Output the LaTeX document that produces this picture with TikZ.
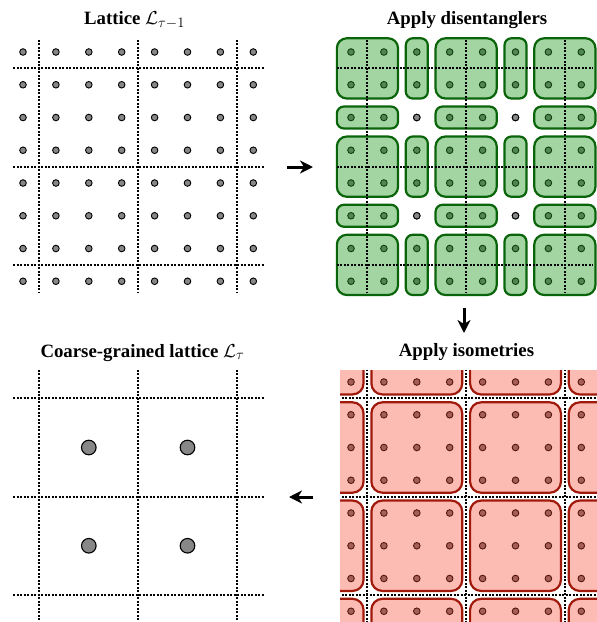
\RequirePackage{fix-cm}
\documentclass[tikz,border=0pt]{standalone}
\usepackage{fontspec}
\setmainfont{Liberation Serif}
\usetikzlibrary{arrows.meta}
\DeclareMathSizes{18.8}{18.8}{14.5}{11}

\definecolor{disfill}{RGB}{163,213,163}
\definecolor{disedge}{RGB}{10,100,10}
\definecolor{disdot}{RGB}{80,135,80}
\definecolor{disdotedge}{RGB}{20,60,20}
\definecolor{isofill}{RGB}{252,188,180}
\definecolor{isoedge}{RGB}{160,25,10}
\definecolor{isodot}{RGB}{165,95,88}
\definecolor{isodotedge}{RGB}{85,25,15}
\definecolor{sitegray}{RGB}{135,135,135}

\tikzset{
  heading/.style={font=\bfseries\fontsize{18.8}{22}\selectfont, anchor=base, inner sep=0pt},
  site/.style={fill=sitegray, draw=black, line width=0.9pt},
  dsite/.style={fill=disdot, draw=disdotedge, line width=0.9pt},
  isite/.style={fill=isodot, draw=isodotedge, line width=0.9pt},
  bigsite/.style={fill=sitegray, draw=black, line width=1.1pt},
  cut/.style={line width=2pt, dash pattern=on 2pt off 1.5pt},
  disbox/.style={fill=disfill, draw=disedge, line width=2.2pt},
  isobox/.style={fill=isofill, draw=isoedge, line width=2.2pt, rounded corners=11pt},
  flow/.style={line width=3pt, -{Stealth[length=13pt, width=13pt, inset=4pt]}},
  cell/.style={x=32.9pt, y=-32.75pt}
}

\begin{document}
\begin{tikzpicture}[x=1pt, y=-1pt]
\useasboundingbox (0,0) rectangle (597,622);

% headings
\node[heading] (h1) at (134.5,24.5) {Lattice $\mathcal{L}_{\tau-1}$};
\node[heading] (h2) at (467,24.5) {Apply disentanglers};
\node[heading] (h3) at (466.5,356) {Apply isometries};
\node[heading] (h4) at (142.5,357) {Coarse-grained lattice $\mathcal{L}_\tau$};

% fine lattice with the block boundaries
\begin{scope}[shift={(23,52)}, cell]
  \foreach \i in {0,...,7}
    \foreach \j in {0,...,7}
      \filldraw[site] (\i,\j) circle[radius=3.3pt];
  \foreach \k in {0.5,3.5,6.5} {
    \draw[cut] (\k,-0.37) -- (\k,7.37);
    \draw[cut] (-0.3,\k) -- (7.35,\k);
  }
\end{scope}

% disentanglers acting across the block boundaries
\begin{scope}[shift={(351,52)}, cell]
  \foreach \a in {0,3,6}
    \foreach \b in {0,3,6}
      \draw[disbox, rounded corners=10pt] (\a-0.43,\b-0.42) rectangle (\a+1.43,\b+1.42);
  \foreach \a in {2,5}
    \foreach \b in {0,3,6}
      \draw[disbox, rounded corners=7pt] (\a-0.335,\b-0.42) rectangle (\a+0.335,\b+1.42);
  \foreach \a in {0,3,6}
    \foreach \b in {2,5}
      \draw[disbox, rounded corners=7pt] (\a-0.43,\b-0.335) rectangle (\a+1.43,\b+0.335);
  \foreach \i in {0,...,7}
    \foreach \j in {0,...,7}
      \filldraw[dsite] (\i,\j) circle[radius=3.3pt];
  \foreach \i in {2,5}
    \foreach \j in {2,5}
      \filldraw[site] (\i,\j) circle[radius=3.3pt];
  \foreach \k in {0.5,3.5,6.5} {
    \draw[cut] (\k,-0.37) -- (\k,7.37);
    \draw[cut] (-0.43,\k) -- (7.36,\k);
  }
\end{scope}

% isometries on the 3x3 blocks
\begin{scope}
  \clip (340,370) rectangle (597,622);
  \begin{scope}[shift={(351,382)}, cell]
    \foreach \a in {-1,2,5,8}
      \foreach \b in {-1,2,5,8}
        \draw[isobox] (\a-1.38,\b-1.38) rectangle (\a+1.38,\b+1.38);
    \foreach \i in {0,...,7}
      \foreach \j in {0,...,7}
        \filldraw[isite] (\i,\j) circle[radius=3.3pt];
    \foreach \k in {0.5,3.5,6.5} {
      \draw[cut] (\k,-0.5) -- (\k,7.5);
      \draw[cut] (-0.5,\k) -- (7.6,\k);
    }
  \end{scope}
\end{scope}

% coarse-grained lattice
\begin{scope}[shift={(23,382)}, cell]
  \foreach \k in {0.5,3.5,6.5} {
    \draw[cut] (\k,-0.37) -- (\k,7.5);
    \draw[cut] (-0.3,\k) -- (7.35,\k);
  }
  \foreach \i in {2,5}
    \foreach \j in {2,5}
      \filldraw[bigsite] (\i,\j) circle[radius=7.3pt];
\end{scope}

% steps of the renormalisation
\coordinate (s1) at (287,167);
\coordinate (e1) at (313,167);
\coordinate (s2) at (464,308);
\coordinate (e2) at (464,333);
\coordinate (s3) at (313,497);
\coordinate (e3) at (289,497);
\draw[flow] (s1) -- (e1);
\draw[flow] (s2) -- (e2);
\draw[flow] (s3) -- (e3);
\end{tikzpicture}
\end{document}
